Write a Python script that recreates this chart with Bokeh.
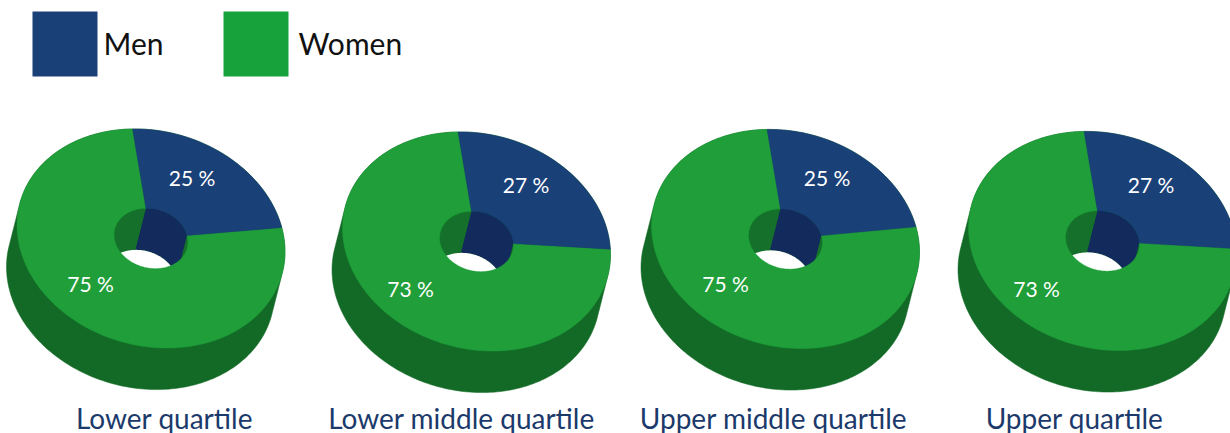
import numpy as np
from bokeh.plotting import figure
from bokeh.models import Range1d
from bokeh.embed import file_html
from bokeh.resources import INLINE
from bokeh.core.properties import value

# --- data ---
quartiles = ["Lower quartile", "Lower middle quartile", "Upper middle quartile", "Upper quartile"]
men_labels = [25, 27, 25, 27]
women_labels = [75, 73, 75, 73]
# wedge size as it appears in the projected picture, in % of the turn
men_drawn = [23.7, 26.4, 23.5, 26.4]
series = ["Men", "Women"]

# --- layout ---
W, H = 1230, 433
FONT = value("Lato")
C_MEN, C_WOMEN = "#1a4078", "#1f9e39"
C_SIDE, C_WALL_M, C_WALL_W = "#126a26", "#122a5c", "#14702a"
centers = [(150.5, 238), (476, 241), (785, 238.5), (1102, 240.5)]
men_off = [(41, -61.5), (49.5, -57.5), (41.5, -62), (48.5, -57)]
women_off = [(-60.5, 44.5), (-66, 46.5), (-60, 44), (-66, 47)]
title_x = [164, 461, 773, 1074]
DX, DY = -10.5, 41.5       # extrusion vector
UX, UY, VY = 134.0, 13.1, 108.8
HOLE = 0.275
START = np.arctan2(-110 / VY + 18.5 / UX * UY / VY, -18.5 / UX)


def pt(c, t, r=1.0):
    t = np.asarray(t, float)
    return (c[0] + r * UX * np.cos(t), c[1] + r * (UY * np.cos(t) + VY * np.sin(t)))


def hull(x, y):
    pts = sorted(set(zip(np.round(x, 3).tolist(), np.round(y, 3).tolist())))
    def half(seq):
        out = []
        for p in seq:
            while len(out) > 1 and (out[-1][0]-out[-2][0])*(p[1]-out[-2][1]) - (out[-1][1]-out[-2][1])*(p[0]-out[-2][0]) <= 0:
                out.pop()
            out.append(p)
        return out[:-1]
    h = half(pts) + half(pts[::-1])
    return [p[0] for p in h], [p[1] for p in h]


p = figure(width=W, height=H, x_range=Range1d(0, W), y_range=Range1d(H, 0),
           output_backend="svg", toolbar_location=None, min_border=0,
           outline_line_color=None, background_fill_color="white", border_fill_color="white")
p.axis.visible = False
p.grid.visible = False
p.styles = {"position": "absolute", "left": "0px", "top": "0px"}

full = np.linspace(0, 2 * np.pi, 241)
for i, c in enumerate(centers):
    a0, a1 = START, START + 2 * np.pi * men_drawn[i] / 100
    # side of the ring
    ox, oy = pt(c, full)
    hx, hy = hull(np.r_[ox, ox + DX], np.r_[oy, oy + DY])
    p.patch(hx, hy, fill_color=C_SIDE, line_color=C_SIDE, line_width=0.5)
    # inner wall of the hole
    ix, iy = pt(c, full, HOLE)
    p.patch(ix, iy, fill_color=C_WALL_W, line_color=None)
    m = np.linspace(a0, a1, 40)
    mx, my = pt(c, m, HOLE)
    p.patch(np.r_[mx, mx[::-1] + DX], np.r_[my, my[::-1] + DY], fill_color=C_WALL_M, line_color=None)
    # see-through part
    p.patch(ix + DX, iy + DY, fill_color="white", line_color=None)
    # top surface
    g = np.linspace(a1, a0 + 2 * np.pi, 160)
    for t, col in ((g, C_WOMEN), (m, C_MEN)):
        tt = np.linspace(t[0], t[-1], 160)
        x1, y1 = pt(c, tt)
        x2, y2 = pt(c, tt[::-1], HOLE)
        p.patch(np.r_[x1, x2], np.r_[y1, y2], fill_color=col, line_color=col, line_width=0.4)
    # labels
    p.text([c[0] + men_off[i][0]], [c[1] + men_off[i][1]], text=[f"{men_labels[i]} %"],
           text_color="white", text_font=FONT, text_font_size="21px", text_align="center", text_baseline="middle")
    p.text([c[0] + women_off[i][0]], [c[1] + women_off[i][1]], text=[f"{women_labels[i]} %"],
           text_color="white", text_font=FONT, text_font_size="21px", text_align="center", text_baseline="middle")
    p.text([title_x[i]], [417], text=[quartiles[i]], text_color="#1b3a6b", text_font=FONT,
           text_font_size="28px", text_align="center", text_baseline="middle")

# legend
p.quad(left=[32], right=[97], top=[11], bottom=[76], fill_color=C_MEN, line_color=None)
p.quad(left=[223], right=[288], top=[11], bottom=[76], fill_color="#18a23c", line_color=None)
p.text([103, 298], [42.5, 42.5], text=series, text_color="#111111", text_font=FONT,
       text_font_size="30px", text_align="left", text_baseline="middle")

open("out.html", "w").write(file_html(p, INLINE))
